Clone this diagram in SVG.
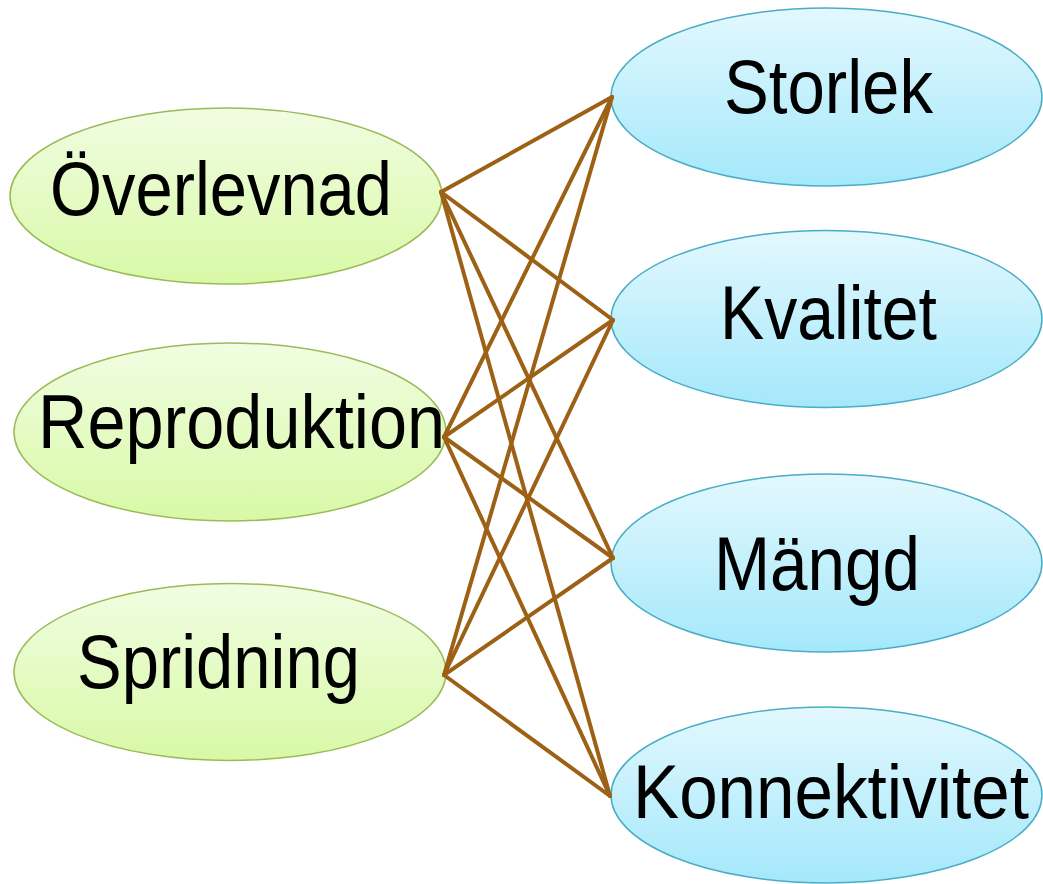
<svg xmlns="http://www.w3.org/2000/svg" width="1043" height="884" viewBox="0 0 1043 884">
<defs>
<linearGradient id="gGreen" x1="0" y1="0" x2="0" y2="1">
<stop offset="0" stop-color="#F1FDE2"/>
<stop offset="1" stop-color="#D8F9A6"/>
</linearGradient>
<linearGradient id="gBlue" x1="0" y1="0" x2="0" y2="1">
<stop offset="0" stop-color="#E3F8FE"/>
<stop offset="1" stop-color="#A4E8FB"/>
</linearGradient>
<style>
.g{fill:url(#gGreen);stroke:#9BBB59;stroke-width:1.5}
.b{fill:url(#gBlue);stroke:#4BACC6;stroke-width:1.5}
.t{font-family:"Liberation Sans",Arial,sans-serif;font-size:76px;fill:#000}
.c line{stroke:#9C6114;stroke-width:4;stroke-linecap:round}
</style>
</defs>
<rect width="1043" height="884" fill="#fff"/>
<g id="overlevnad"><ellipse class="g" cx="226" cy="196" rx="216" ry="88"/><text class="t" x="50" y="215" textLength="342" lengthAdjust="spacingAndGlyphs">Överlevnad</text></g>
<g id="reproduktion"><ellipse class="g" cx="230" cy="432" rx="216" ry="89"/><text class="t" x="38" y="448" textLength="407" lengthAdjust="spacingAndGlyphs">Reproduktion</text></g>
<g id="spridning"><ellipse class="g" cx="230" cy="672" rx="216" ry="88.5"/><text class="t" x="77" y="688" textLength="283" lengthAdjust="spacingAndGlyphs">Spridning</text></g>
<g id="storlek"><ellipse class="b" cx="826.5" cy="97" rx="215.5" ry="89"/><text class="t" x="724" y="113" textLength="209" lengthAdjust="spacingAndGlyphs">Storlek</text></g>
<g id="kvalitet"><ellipse class="b" cx="826.5" cy="319" rx="215.5" ry="88.5"/><text class="t" x="720" y="339" textLength="217" lengthAdjust="spacingAndGlyphs">Kvalitet</text></g>
<g id="mangd"><ellipse class="b" cx="826.5" cy="563" rx="215.5" ry="89"/><text class="t" x="714" y="590" textLength="206" lengthAdjust="spacingAndGlyphs">Mängd</text></g>
<g id="konnektivitet"><ellipse class="b" cx="826.5" cy="795" rx="215.5" ry="88"/><text class="t" x="633" y="818" textLength="396" lengthAdjust="spacingAndGlyphs">Konnektivitet</text></g>
<g id="connectors" class="c">
<line x1="441" y1="192" x2="612" y2="97"/>
<line x1="441" y1="192" x2="613" y2="320"/>
<line x1="441" y1="192" x2="613" y2="558"/>
<line x1="441" y1="192" x2="610" y2="796"/>
<line x1="444" y1="437" x2="612" y2="97"/>
<line x1="444" y1="437" x2="613" y2="320"/>
<line x1="444" y1="437" x2="613" y2="558"/>
<line x1="444" y1="437" x2="610" y2="796"/>
<line x1="444" y1="675" x2="612" y2="97"/>
<line x1="444" y1="675" x2="613" y2="320"/>
<line x1="444" y1="675" x2="613" y2="558"/>
<line x1="444" y1="675" x2="610" y2="796"/>
</g>
</svg>
